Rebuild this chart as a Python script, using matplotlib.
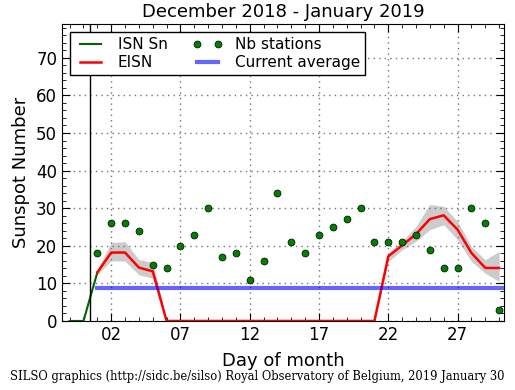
import matplotlib
matplotlib.use('Agg')
import matplotlib.pyplot as plt
from matplotlib.ticker import MultipleLocator, FixedLocator

# days relative to January 2019 (0 = Dec 31, -1 = Dec 30)
sn_days = [-1, 0, 1]
sn_values = [0, 0, 12.9]

days = list(range(1, 31))
eisn = [12.9, 18.2, 18.2, 14.2, 13.2, 0, 0, 0, 0, 0,
        0, 0, 0, 0, 0, 0, 0, 0, 0, 0,
        0, 17.2, 20.1, 23.1, 27.1, 28.1, 24.3, 18.1, 14.1, 14.1]
eisn_low = [12.3, 16.0, 15.9, 12.3, 11.4, 0, 0, 0, 0, 0,
            0, 0, 0, 0, 0, 0, 0, 0, 0, 0,
            0, 15.8, 18.9, 21.2, 24.3, 25.6, 21.6, 15.8, 12.7, 10.5]
eisn_high = [13.7, 20.9, 21.1, 16.3, 15.6, 0, 0, 0, 0, 0,
             0, 0, 0, 0, 0, 0, 0, 0, 0, 0,
             0, 18.1, 21.2, 25.2, 31.0, 30.5, 26.5, 19.8, 16.3, 18.5]
nb_stations = [18, 26, 26, 24, 15, 14, 20, 23, 30, 17,
               18, 11, 16, 34, 21, 18, 23, 25, 27, 30,
               21, 21, 21, 23, 19, 14, 14, 30, 26, 3]
current_avg = 8.8

tick_pos = [2, 7, 12, 17, 22, 27]
tick_lab = ['02', '07', '12', '17', '22', '27']

fig = plt.figure(figsize=(5.15, 3.9), dpi=100)
ax = fig.add_axes([0.1204, 0.177, 0.8582, 0.7615])

ax.fill_between(days, eisn_low, eisn_high, color='0.8', lw=0)
ax.plot(sn_days, sn_values, color='darkgreen', lw=1.5, label='ISN Sn')
ax.plot(days, eisn, color='red', lw=1.8, label='EISN')
ax.plot(days, nb_stations, 'o', color='green', mec='black', mew=0.5,
        ms=5, label='Nb stations')
ax.plot([days[0], 31], [current_avg, current_avg], color='blue', alpha=0.6,
        lw=3, label='Current average')
ax.axvline(0.5, color='black', lw=1)

ax.set_xlim(-1.55, 30.35)
ax.set_ylim(0, 79)
ax.xaxis.set_major_locator(FixedLocator(tick_pos))
ax.set_xticklabels(tick_lab)
ax.xaxis.set_minor_locator(MultipleLocator(1))
ax.yaxis.set_major_locator(MultipleLocator(10))
ax.yaxis.set_minor_locator(MultipleLocator(2))
ax.tick_params(which='both', direction='in', top=True, right=True,
               labelsize=12)
ax.tick_params(which='major', length=6)
ax.tick_params(which='minor', length=3)
ax.grid(True, which='major', color='0.45', linestyle=(0, (1, 3)), lw=1)

ax.set_title('December 2018 - January 2019', fontsize=13, pad=5)
ax.set_xlabel('Day of month', fontsize=13, labelpad=6)
ax.set_ylabel('Sunspot Number', fontsize=13)

leg = ax.legend(loc='upper left', ncol=2, numpoints=2, fontsize=11,
                fancybox=False, framealpha=1, edgecolor='black',
                borderaxespad=0.5, handlelength=2.0, columnspacing=1.6,
                labelspacing=0.2, borderpad=0.35)
leg.get_frame().set_linewidth(1)

fig.text(0.5, 0.035, 'SILSO graphics (http://sidc.be/silso) Royal Observatory of Belgium, 2019 January 30',
         ha='center', va='center', family='DejaVu Serif', fontsize=8.3)

fig.savefig('out.png', dpi=100)
